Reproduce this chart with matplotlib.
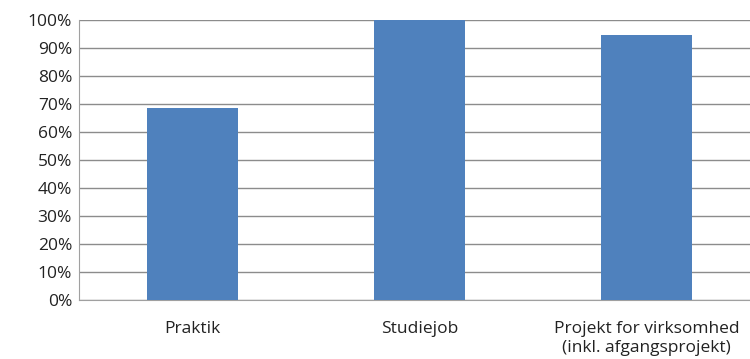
import matplotlib
matplotlib.use("Agg")
import matplotlib.pyplot as plt
from matplotlib.ticker import PercentFormatter

# --------------------------------------------------
# Data
# --------------------------------------------------

categories = [
    "Praktik",
    "Studiejob",
    "Projekt for virksomhed\n(inkl. afgangsprojekt)"
]

values = [68.5, 100, 94.6]

y_ticks = list(range(0, 101, 10))

# --------------------------------------------------
# Figure
# --------------------------------------------------

plt.rcParams["font.family"] = ["Open Sans", "DejaVu Sans"]

fig = plt.figure(figsize=(7.5, 3.59), dpi=100)
ax = fig.add_axes([79 / 750, 1 - 300 / 359, 681 / 750, 280 / 359])

x = range(len(categories))

ax.bar(x, values, width=0.4, color="#4f81bd", zorder=3)

ax.set_xlim(-0.5, 2.5)
ax.set_ylim(0, 100)
ax.set_yticks(y_ticks)
ax.yaxis.set_major_formatter(PercentFormatter(decimals=0))

ax.set_xticks(list(x))
ax.set_xticklabels(categories, fontsize=12.5, color="#222222", linespacing=1.25)

ax.tick_params(axis="y", labelsize=12.5, labelcolor="#222222", length=0, pad=5)
ax.tick_params(axis="x", length=0, pad=15)

ax.grid(axis="y", color="#8c8c8c", linewidth=1, zorder=0)

for side in ["top", "right"]:
    ax.spines[side].set_visible(False)

ax.spines["left"].set_color("#a0a0a0")
ax.spines["bottom"].set_color("#a0a0a0")

fig.savefig("out.png", dpi=100)
